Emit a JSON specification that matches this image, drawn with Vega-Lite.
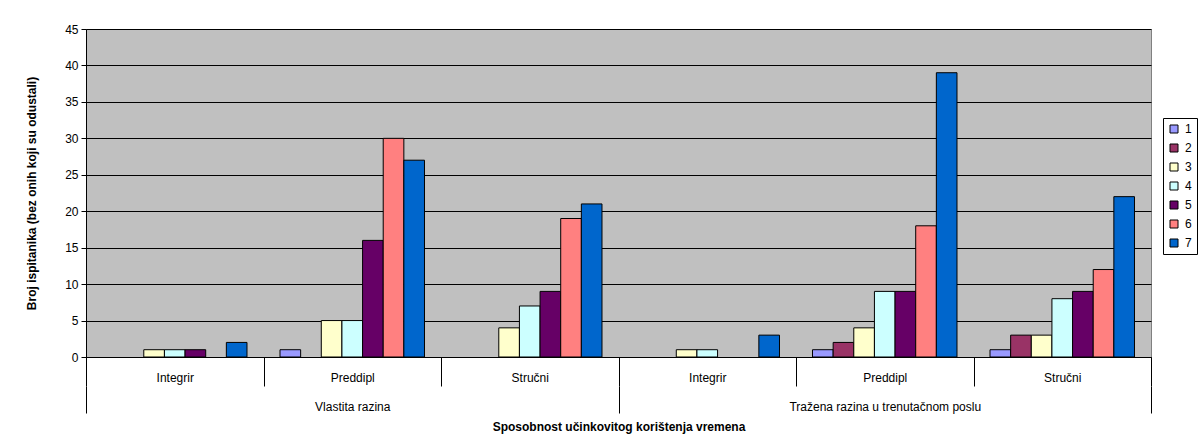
{
  "$schema": "https://vega.github.io/schema/vega-lite/v6.json",
  "width": 1065,
  "height": 328,
  "autosize": {"type": "none"},
  "padding": {"left": 86, "top": 29, "right": 49, "bottom": 91},
  "background": "white",
  "config": {
    "font": "Liberation Sans",
    "view": {"fill": "#C0C0C0", "stroke": "#808080", "strokeWidth": 1}
  },
  "data": {
    "values": [
      {"razina": "Vlastita razina", "grp": "Vlastita razina|Integrir", "s": "1", "v": 0},
      {"razina": "Vlastita razina", "grp": "Vlastita razina|Integrir", "s": "2", "v": 0},
      {"razina": "Vlastita razina", "grp": "Vlastita razina|Integrir", "s": "3", "v": 1},
      {"razina": "Vlastita razina", "grp": "Vlastita razina|Integrir", "s": "4", "v": 1},
      {"razina": "Vlastita razina", "grp": "Vlastita razina|Integrir", "s": "5", "v": 1},
      {"razina": "Vlastita razina", "grp": "Vlastita razina|Integrir", "s": "6", "v": 0},
      {"razina": "Vlastita razina", "grp": "Vlastita razina|Integrir", "s": "7", "v": 2},
      {"razina": "Vlastita razina", "grp": "Vlastita razina|Preddipl", "s": "1", "v": 1},
      {"razina": "Vlastita razina", "grp": "Vlastita razina|Preddipl", "s": "2", "v": 0},
      {"razina": "Vlastita razina", "grp": "Vlastita razina|Preddipl", "s": "3", "v": 5},
      {"razina": "Vlastita razina", "grp": "Vlastita razina|Preddipl", "s": "4", "v": 5},
      {"razina": "Vlastita razina", "grp": "Vlastita razina|Preddipl", "s": "5", "v": 16},
      {"razina": "Vlastita razina", "grp": "Vlastita razina|Preddipl", "s": "6", "v": 30},
      {"razina": "Vlastita razina", "grp": "Vlastita razina|Preddipl", "s": "7", "v": 27},
      {"razina": "Vlastita razina", "grp": "Vlastita razina|Stručni", "s": "1", "v": 0},
      {"razina": "Vlastita razina", "grp": "Vlastita razina|Stručni", "s": "2", "v": 0},
      {"razina": "Vlastita razina", "grp": "Vlastita razina|Stručni", "s": "3", "v": 4},
      {"razina": "Vlastita razina", "grp": "Vlastita razina|Stručni", "s": "4", "v": 7},
      {"razina": "Vlastita razina", "grp": "Vlastita razina|Stručni", "s": "5", "v": 9},
      {"razina": "Vlastita razina", "grp": "Vlastita razina|Stručni", "s": "6", "v": 19},
      {"razina": "Vlastita razina", "grp": "Vlastita razina|Stručni", "s": "7", "v": 21},
      {"razina": "Tražena razina u trenutačnom poslu", "grp": "Tražena razina u trenutačnom poslu|Integrir", "s": "1", "v": 0},
      {"razina": "Tražena razina u trenutačnom poslu", "grp": "Tražena razina u trenutačnom poslu|Integrir", "s": "2", "v": 0},
      {"razina": "Tražena razina u trenutačnom poslu", "grp": "Tražena razina u trenutačnom poslu|Integrir", "s": "3", "v": 1},
      {"razina": "Tražena razina u trenutačnom poslu", "grp": "Tražena razina u trenutačnom poslu|Integrir", "s": "4", "v": 1},
      {"razina": "Tražena razina u trenutačnom poslu", "grp": "Tražena razina u trenutačnom poslu|Integrir", "s": "5", "v": 0},
      {"razina": "Tražena razina u trenutačnom poslu", "grp": "Tražena razina u trenutačnom poslu|Integrir", "s": "6", "v": 0},
      {"razina": "Tražena razina u trenutačnom poslu", "grp": "Tražena razina u trenutačnom poslu|Integrir", "s": "7", "v": 3},
      {"razina": "Tražena razina u trenutačnom poslu", "grp": "Tražena razina u trenutačnom poslu|Preddipl", "s": "1", "v": 1},
      {"razina": "Tražena razina u trenutačnom poslu", "grp": "Tražena razina u trenutačnom poslu|Preddipl", "s": "2", "v": 2},
      {"razina": "Tražena razina u trenutačnom poslu", "grp": "Tražena razina u trenutačnom poslu|Preddipl", "s": "3", "v": 4},
      {"razina": "Tražena razina u trenutačnom poslu", "grp": "Tražena razina u trenutačnom poslu|Preddipl", "s": "4", "v": 9},
      {"razina": "Tražena razina u trenutačnom poslu", "grp": "Tražena razina u trenutačnom poslu|Preddipl", "s": "5", "v": 9},
      {"razina": "Tražena razina u trenutačnom poslu", "grp": "Tražena razina u trenutačnom poslu|Preddipl", "s": "6", "v": 18},
      {"razina": "Tražena razina u trenutačnom poslu", "grp": "Tražena razina u trenutačnom poslu|Preddipl", "s": "7", "v": 39},
      {"razina": "Tražena razina u trenutačnom poslu", "grp": "Tražena razina u trenutačnom poslu|Stručni", "s": "1", "v": 1},
      {"razina": "Tražena razina u trenutačnom poslu", "grp": "Tražena razina u trenutačnom poslu|Stručni", "s": "2", "v": 3},
      {"razina": "Tražena razina u trenutačnom poslu", "grp": "Tražena razina u trenutačnom poslu|Stručni", "s": "3", "v": 3},
      {"razina": "Tražena razina u trenutačnom poslu", "grp": "Tražena razina u trenutačnom poslu|Stručni", "s": "4", "v": 8},
      {"razina": "Tražena razina u trenutačnom poslu", "grp": "Tražena razina u trenutačnom poslu|Stručni", "s": "5", "v": 9},
      {"razina": "Tražena razina u trenutačnom poslu", "grp": "Tražena razina u trenutačnom poslu|Stručni", "s": "6", "v": 12},
      {"razina": "Tražena razina u trenutačnom poslu", "grp": "Tražena razina u trenutačnom poslu|Stručni", "s": "7", "v": 22}
    ]
  },
  "layer": [
    {
      "mark": {"type": "bar", "stroke": "#000000", "strokeWidth": 1},
      "encoding": {
        "x": {
          "field": "grp",
          "type": "nominal",
          "scale": {
            "domain": [
              "Vlastita razina|Integrir",
              "Vlastita razina|Preddipl",
              "Vlastita razina|Stručni",
              "Tražena razina u trenutačnom poslu|Integrir",
              "Tražena razina u trenutačnom poslu|Preddipl",
              "Tražena razina u trenutačnom poslu|Stručni"
            ],
            "paddingInner": 0,
            "paddingOuter": 0
          },
          "axis": {
            "title": null,
            "labelExpr": "split(datum.label, '|')[1]",
            "tickBand": "extent",
            "tickSize": 29,
            "tickColor": "#000000",
            "domainColor": "#000000",
            "labelAngle": 0,
            "labelBaseline": "middle",
            "labelPadding": -9,
            "labelFontSize": 12,
            "labelColor": "#000000",
            "labelLimit": 0,
            "grid": false
          }
        },
        "xOffset": {
          "field": "s",
          "type": "nominal",
          "scale": {"paddingOuter": 0.8, "paddingInner": 0}
        },
        "y": {
          "field": "v",
          "type": "quantitative",
          "scale": {"domain": [0, 45]},
          "axis": {
            "title": "Broj ispitanika (bez onih koji su odustali)",
            "values": [0, 5, 10, 15, 20, 25, 30, 35, 40, 45],
            "grid": true,
            "gridColor": "#000000",
            "gridWidth": 1,
            "gridOpacity": 1,
            "domainColor": "#000000",
            "tickColor": "#000000",
            "tickSize": 5,
            "labelFontSize": 12,
            "labelColor": "#000000",
            "labelPadding": 3,
            "titleFontSize": 12,
            "titleFontWeight": "bold",
            "titleColor": "#000000",
            "titlePadding": 26
          }
        },
        "strokeOpacity": {
          "condition": {"test": "datum.v == 0", "value": 0},
          "value": 1
        },
        "color": {
          "field": "s",
          "type": "nominal",
          "scale": {
            "domain": ["1", "2", "3", "4", "5", "6", "7"],
            "range": ["#9999FF", "#993366", "#FFFFCC", "#CCFFFF", "#660066", "#FF8080", "#0066CC"]
          },
          "legend": {
            "title": null,
            "orient": "none",
            "legendX": 1077,
            "legendY": 89,
            "fillColor": "white",
            "strokeColor": "#000000",
            "padding": 5,
            "symbolType": "square",
            "symbolSize": 64,
            "symbolStrokeColor": "#000000",
            "symbolStrokeWidth": 1,
            "symbolOpacity": 1,
            "labelFontSize": 12,
            "labelColor": "#000000",
            "rowPadding": 7,
            "labelOffset": 5
          }
        }
      }
    },
    {
      "mark": {"type": "rule", "opacity": 0},
      "encoding": {
        "x": {
          "field": "razina",
          "type": "nominal",
          "scale": {
            "domain": ["Vlastita razina", "Tražena razina u trenutačnom poslu"],
            "paddingInner": 0,
            "paddingOuter": 0
          },
          "axis": {
            "orient": "bottom",
            "offset": 29,
            "title": "Sposobnost učinkovitog korištenja vremena",
            "domain": false,
            "grid": false,
            "tickBand": "extent",
            "tickSize": 27,
            "tickColor": "#000000",
            "labelAngle": 0,
            "labelBaseline": "middle",
            "labelPadding": -7,
            "labelFontSize": 12,
            "labelColor": "#000000",
            "labelLimit": 0,
            "titleFontSize": 12,
            "titleFontWeight": "bold",
            "titleColor": "#000000",
            "titlePadding": 8
          }
        }
      }
    }
  ],
  "resolve": {"scale": {"x": "independent"}, "axis": {"x": "independent"}}
}
